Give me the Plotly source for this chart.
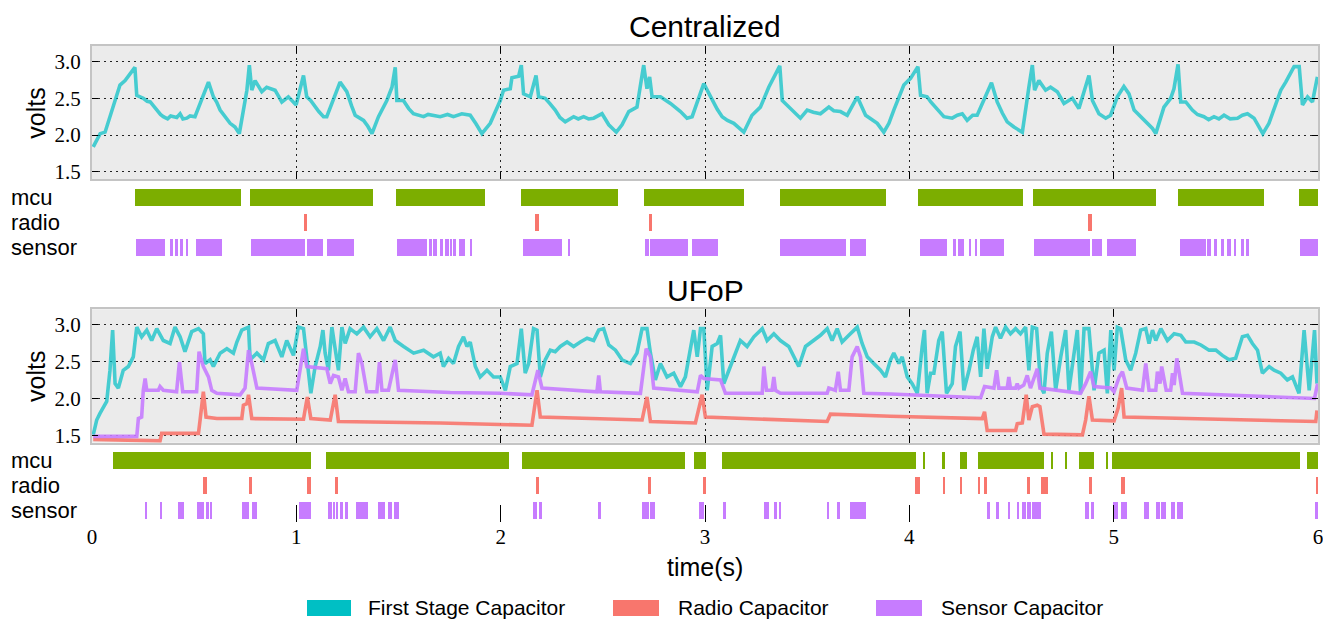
import plotly.graph_objects as go

# ---------------- data ----------------
# Centralized: first stage capacitor voltage (time s, volts)
cent_first = [
    (0.006, 1.84), (0.023, 1.93), (0.04, 2.02), (0.064, 2.04), (0.088, 2.25), (0.113, 2.47),
    (0.137, 2.68), (0.162, 2.74), (0.186, 2.83), (0.21, 2.92), (0.219, 2.54), (0.251, 2.50),
    (0.27, 2.46), (0.285, 2.45), (0.30, 2.40), (0.317, 2.34), (0.335, 2.28), (0.349, 2.25),
    (0.37, 2.22), (0.385, 2.26), (0.398, 2.25), (0.415, 2.24), (0.431, 2.29), (0.445, 2.22),
    (0.464, 2.23), (0.48, 2.26), (0.504, 2.25), (0.57, 2.72), (0.594, 2.52), (0.61, 2.45),
    (0.627, 2.34), (0.65, 2.25), (0.676, 2.16), (0.70, 2.11), (0.721, 2.02), (0.758, 2.61),
    (0.770, 2.95), (0.782, 2.61), (0.798, 2.74), (0.831, 2.59), (0.855, 2.65), (0.896, 2.61),
    (0.929, 2.45), (0.961, 2.52), (0.999, 2.41), (1.035, 2.81), (1.051, 2.52), (1.07, 2.47),
    (1.092, 2.38), (1.11, 2.32), (1.133, 2.25), (1.149, 2.25), (1.214, 2.72), (1.247, 2.59),
    (1.27, 2.40), (1.288, 2.27), (1.329, 2.20), (1.35, 2.12), (1.37, 2.02), (1.402, 2.25),
    (1.443, 2.47), (1.468, 2.65), (1.484, 2.92), (1.492, 2.47), (1.524, 2.47), (1.55, 2.36),
    (1.573, 2.29), (1.60, 2.27), (1.623, 2.25), (1.645, 2.28), (1.671, 2.27), (1.704, 2.25),
    (1.74, 2.28), (1.769, 2.25), (1.81, 2.29), (1.851, 2.27), (1.88, 2.15), (1.908, 2.02),
    (1.949, 2.16), (1.998, 2.47), (2.014, 2.61), (2.047, 2.63), (2.055, 2.78), (2.088, 2.80),
    (2.101, 2.95), (2.112, 2.56), (2.145, 2.52), (2.173, 2.81), (2.186, 2.52), (2.218, 2.50),
    (2.24, 2.43), (2.267, 2.34), (2.29, 2.24), (2.316, 2.18), (2.357, 2.25), (2.38, 2.22),
    (2.406, 2.25), (2.43, 2.22), (2.455, 2.23), (2.496, 2.29), (2.529, 2.14), (2.566, 2.04),
    (2.594, 2.14), (2.627, 2.32), (2.667, 2.38), (2.684, 2.65), (2.70, 2.95), (2.716, 2.63),
    (2.729, 2.79), (2.741, 2.52), (2.782, 2.52), (2.831, 2.43), (2.88, 2.32), (2.912, 2.23),
    (2.937, 2.25), (2.994, 2.70), (3.035, 2.47), (3.06, 2.35), (3.084, 2.25), (3.11, 2.20),
    (3.141, 2.16), (3.165, 2.10), (3.19, 2.04), (3.23, 2.27), (3.271, 2.38), (3.312, 2.65),
    (3.337, 2.79), (3.366, 2.94), (3.378, 2.47), (3.41, 2.38), (3.44, 2.30), (3.467, 2.23),
    (3.50, 2.34), (3.53, 2.31), (3.565, 2.29), (3.606, 2.38), (3.63, 2.33), (3.663, 2.32),
    (3.696, 2.27), (3.745, 2.52), (3.786, 2.27), (3.81, 2.22), (3.843, 2.16), (3.875, 2.04),
    (3.9, 2.16), (3.924, 2.34), (3.949, 2.52), (3.973, 2.68), (4.006, 2.77), (4.042, 2.93),
    (4.055, 2.54), (4.087, 2.52), (4.105, 2.45), (4.128, 2.38), (4.15, 2.30), (4.169, 2.25),
    (4.21, 2.23), (4.235, 2.27), (4.259, 2.29), (4.283, 2.20), (4.31, 2.27), (4.332, 2.27),
    (4.402, 2.71), (4.43, 2.45), (4.455, 2.30), (4.479, 2.18), (4.512, 2.11), (4.553, 2.04),
    (4.585, 2.65), (4.602, 2.95), (4.613, 2.61), (4.634, 2.74), (4.667, 2.61), (4.691, 2.65),
    (4.724, 2.59), (4.757, 2.43), (4.798, 2.50), (4.83, 2.36), (4.879, 2.81), (4.896, 2.47),
    (4.928, 2.29), (4.961, 2.23), (4.985, 2.27), (5.018, 2.52), (5.05, 2.66), (5.075, 2.56),
    (5.1, 2.34), (5.125, 2.27), (5.149, 2.20), (5.17, 2.15), (5.19, 2.09), (5.206, 2.02),
    (5.246, 2.38), (5.279, 2.50), (5.295, 2.63), (5.315, 2.96), (5.328, 2.45), (5.353, 2.45),
    (5.385, 2.34), (5.41, 2.28), (5.442, 2.25), (5.465, 2.21), (5.491, 2.25), (5.515, 2.22),
    (5.54, 2.27), (5.57, 2.22), (5.606, 2.23), (5.63, 2.27), (5.655, 2.29), (5.687, 2.23),
    (5.73, 2.02), (5.76, 2.16), (5.793, 2.43), (5.818, 2.61), (5.842, 2.72), (5.883, 2.93),
    (5.908, 2.93), (5.924, 2.41), (5.949, 2.52), (5.973, 2.45), (5.997, 2.79),
]

# UFoP: first stage capacitor voltage
ufop_first = [
    (0.006, 1.51), (0.023, 1.71), (0.039, 1.80), (0.055, 1.89), (0.072, 1.96), (0.088, 2.38),
    (0.101, 2.92), (0.113, 2.20), (0.129, 2.14), (0.153, 2.38), (0.178, 2.43), (0.202, 2.56),
    (0.219, 2.96), (0.243, 2.83), (0.268, 2.92), (0.292, 2.78), (0.317, 2.94), (0.349, 2.78),
    (0.382, 2.74), (0.406, 2.96), (0.431, 2.83), (0.455, 2.63), (0.488, 2.90), (0.521, 2.94),
    (0.545, 2.87), (0.553, 2.47), (0.578, 2.52), (0.594, 2.43), (0.627, 2.61), (0.66, 2.67),
    (0.692, 2.61), (0.709, 2.76), (0.733, 2.92), (0.766, 2.96), (0.774, 2.52), (0.807, 2.61),
    (0.839, 2.52), (0.863, 2.74), (0.896, 2.78), (0.929, 2.56), (0.953, 2.78), (0.986, 2.58),
    (1.010, 2.96), (1.035, 2.94), (1.051, 2.56), (1.071, 2.07), (1.092, 2.43), (1.117, 2.70),
    (1.130, 2.92), (1.141, 2.61), (1.157, 2.38), (1.174, 2.96), (1.19, 2.67), (1.206, 2.38),
    (1.223, 2.96), (1.239, 2.74), (1.263, 2.94), (1.296, 2.87), (1.329, 2.96), (1.361, 2.83),
    (1.394, 2.94), (1.427, 2.78), (1.459, 2.96), (1.484, 2.78), (1.525, 2.70), (1.574, 2.61),
    (1.623, 2.65), (1.671, 2.56), (1.704, 2.61), (1.72, 2.43), (1.745, 2.54), (1.769, 2.47),
    (1.794, 2.70), (1.818, 2.83), (1.835, 2.70), (1.851, 2.76), (1.876, 2.43), (1.9, 2.29),
    (1.933, 2.38), (1.965, 2.29), (1.998, 2.29), (2.023, 2.11), (2.047, 2.43), (2.08, 2.47),
    (2.101, 2.94), (2.12, 2.34), (2.137, 2.47), (2.161, 2.94), (2.178, 2.92), (2.194, 2.29),
    (2.218, 2.52), (2.243, 2.65), (2.267, 2.63), (2.292, 2.70), (2.325, 2.76), (2.357, 2.70),
    (2.39, 2.76), (2.423, 2.81), (2.455, 2.78), (2.48, 2.92), (2.504, 2.94), (2.529, 2.72),
    (2.562, 2.65), (2.594, 2.52), (2.635, 2.47), (2.667, 2.61), (2.692, 2.94), (2.716, 2.94),
    (2.733, 2.61), (2.757, 2.25), (2.782, 2.47), (2.814, 2.29), (2.847, 2.34), (2.88, 2.16),
    (2.904, 2.29), (2.929, 2.65), (2.945, 2.92), (2.962, 2.56), (2.978, 2.94), (2.994, 2.94),
    (3.011, 2.11), (3.035, 2.70), (3.06, 2.74), (3.076, 2.85), (3.092, 2.20), (3.117, 2.38),
    (3.141, 2.56), (3.173, 2.78), (3.206, 2.70), (3.239, 2.83), (3.28, 2.94), (3.304, 2.78),
    (3.337, 2.87), (3.369, 2.78), (3.41, 2.70), (3.459, 2.43), (3.492, 2.70), (3.532, 2.78),
    (3.565, 2.85), (3.598, 2.94), (3.622, 2.78), (3.647, 2.94), (3.671, 2.76), (3.704, 2.85),
    (3.745, 2.96), (3.769, 2.74), (3.794, 2.56), (3.826, 2.47), (3.859, 2.38), (3.883, 2.29),
    (3.908, 2.52), (3.924, 2.61), (3.949, 2.47), (3.965, 2.56), (3.99, 2.29), (4.014, 2.20),
    (4.039, 2.07), (4.063, 2.70), (4.074, 2.92), (4.087, 2.07), (4.104, 2.34), (4.12, 2.34),
    (4.144, 2.78), (4.161, 2.90), (4.182, 2.07), (4.21, 2.20), (4.226, 2.70), (4.248, 2.90),
    (4.267, 2.11), (4.292, 2.38), (4.313, 2.65), (4.332, 2.83), (4.349, 2.29), (4.365, 2.94),
    (4.381, 2.40), (4.406, 2.83), (4.422, 2.96), (4.446, 2.81), (4.471, 2.96), (4.495, 2.87),
    (4.52, 2.94), (4.544, 2.87), (4.569, 2.96), (4.585, 2.38), (4.602, 2.96), (4.623, 2.94),
    (4.643, 2.16), (4.659, 2.07), (4.675, 2.61), (4.695, 2.90), (4.716, 2.11), (4.741, 2.56),
    (4.765, 2.92), (4.781, 2.11), (4.806, 2.61), (4.822, 2.92), (4.838, 2.07), (4.855, 2.94),
    (4.879, 2.94), (4.904, 2.11), (4.928, 2.61), (4.953, 2.65), (4.969, 2.07), (4.986, 2.92),
    (5.002, 2.38), (5.018, 2.96), (5.034, 2.94), (5.059, 2.52), (5.083, 2.38), (5.108, 2.61),
    (5.132, 2.92), (5.157, 2.94), (5.173, 2.74), (5.19, 2.92), (5.206, 2.78), (5.231, 2.94),
    (5.263, 2.78), (5.296, 2.87), (5.329, 2.85), (5.353, 2.76), (5.394, 2.76), (5.427, 2.72),
    (5.467, 2.65), (5.5, 2.65), (5.532, 2.58), (5.565, 2.52), (5.597, 2.54), (5.63, 2.83),
    (5.655, 2.85), (5.679, 2.74), (5.704, 2.65), (5.728, 2.34), (5.761, 2.43), (5.785, 2.38),
    (5.818, 2.34), (5.85, 2.25), (5.875, 2.29), (5.907, 2.07), (5.932, 2.92), (5.957, 2.11),
    (5.983, 2.92), (5.995, 2.20),
]

# UFoP: radio capacitor voltage
ufop_radio = [
    (0.006, 1.45), (0.333, 1.43), (0.341, 1.53), (0.521, 1.53), (0.529, 1.71), (0.545, 2.09),
    (0.558, 1.75), (0.611, 1.73), (0.733, 1.73), (0.741, 1.91), (0.758, 1.93), (0.766, 2.05),
    (0.782, 1.73), (1.035, 1.72), (1.048, 1.93), (1.054, 2.02), (1.071, 1.73), (1.166, 1.71),
    (1.19, 2.05), (1.206, 1.69), (1.704, 1.67), (2.153, 1.64), (2.178, 2.11), (2.194, 1.75),
    (2.692, 1.71), (2.716, 2.02), (2.733, 1.69), (2.953, 1.67), (2.986, 2.05), (3.002, 1.75),
    (3.598, 1.69), (3.614, 1.79), (3.908, 1.76), (4.357, 1.73), (4.368, 1.82), (4.381, 1.57),
    (4.52, 1.57), (4.528, 1.66), (4.553, 1.67), (4.572, 2.05), (4.585, 1.71), (4.602, 1.89),
    (4.626, 1.91), (4.639, 1.89), (4.659, 1.52), (4.847, 1.51), (4.863, 1.71), (4.879, 2.03),
    (4.896, 1.71), (5.002, 1.70), (5.022, 1.87), (5.039, 2.14), (5.051, 1.75), (5.989, 1.69),
    (5.995, 1.84),
]

# UFoP: sensor capacitor voltage
ufop_sensor = [
    (0.006, 1.49), (0.219, 1.49), (0.227, 1.73), (0.243, 1.75), (0.251, 2.11), (0.26, 2.27),
    (0.268, 2.11), (0.325, 2.11), (0.333, 2.16), (0.349, 2.11), (0.414, 2.09), (0.428, 2.49),
    (0.444, 2.09), (0.512, 2.09), (0.524, 2.63), (0.545, 2.43), (0.570, 2.29), (0.586, 2.11),
    (0.611, 2.07), (0.725, 2.05), (0.749, 2.14), (0.766, 2.65), (0.782, 2.47), (0.807, 2.14),
    (1.002, 2.11), (1.019, 2.38), (1.035, 2.67), (1.051, 2.43), (1.149, 2.40), (1.166, 2.20),
    (1.182, 2.31), (1.206, 2.29), (1.223, 2.11), (1.239, 2.27), (1.255, 2.09), (1.288, 2.09),
    (1.304, 2.61), (1.321, 2.47), (1.345, 2.09), (1.394, 2.09), (1.407, 2.49), (1.419, 2.11),
    (1.451, 2.11), (1.484, 2.52), (1.5, 2.11), (1.753, 2.08), (1.998, 2.07), (2.153, 2.05),
    (2.169, 2.25), (2.182, 2.38), (2.202, 2.14), (2.471, 2.09), (2.48, 2.31), (2.488, 2.09),
    (2.684, 2.07), (2.70, 2.38), (2.712, 2.67), (2.733, 2.56), (2.749, 2.14), (2.962, 2.09),
    (2.978, 2.31), (2.994, 2.27), (3.076, 2.25), (3.1, 2.07), (3.28, 2.07), (3.288, 2.43),
    (3.301, 2.11), (3.328, 2.11), (3.337, 2.29), (3.345, 2.11), (3.369, 2.07), (3.598, 2.07),
    (3.606, 2.14), (3.638, 2.11), (3.652, 2.36), (3.663, 2.11), (3.704, 2.11), (3.72, 2.56),
    (3.745, 2.70), (3.761, 2.56), (3.777, 2.07), (3.908, 2.06), (4.349, 2.01), (4.368, 2.16),
    (4.414, 2.14), (4.427, 2.38), (4.438, 2.14), (4.479, 2.14), (4.487, 2.29), (4.495, 2.14),
    (4.52, 2.14), (4.528, 2.20), (4.536, 2.14), (4.56, 2.18), (4.577, 2.31), (4.593, 2.14),
    (4.613, 2.29), (4.626, 2.40), (4.639, 2.14), (4.838, 2.07), (4.863, 2.20), (4.887, 2.36),
    (4.904, 2.16), (4.986, 2.14), (5.002, 2.09), (5.027, 2.29), (5.043, 2.36), (5.064, 2.14),
    (5.141, 2.11), (5.157, 2.47), (5.173, 2.11), (5.206, 2.11), (5.214, 2.36), (5.227, 2.20),
    (5.235, 2.43), (5.257, 2.11), (5.279, 2.11), (5.288, 2.34), (5.296, 2.18), (5.309, 2.54),
    (5.337, 2.07), (5.983, 2.00), (5.998, 2.20),
]

# event rows: (start s, end s)
cent_mcu = [(0.211, 0.729), (0.774, 1.375), (1.486, 1.925), (2.101, 2.572), (2.703, 3.19),
            (3.369, 3.888), (4.043, 4.556), (4.603, 5.207), (5.317, 5.736), (5.909, 6.0)]
cent_radio = [(1.038, 1.054), (2.169, 2.186), (2.724, 2.739), (4.874, 4.892)]
cent_sensor = [(0.2155, 0.3575), (0.382, 0.398), (0.406, 0.423), (0.431, 0.444), (0.464, 0.469),
               (0.509, 0.635), (0.777, 1.043), (1.051, 1.130), (1.149, 1.280), (1.492, 1.639),
               (1.647, 1.664), (1.671, 1.688), (1.704, 1.720), (1.729, 1.745), (1.753, 1.761),
               (1.769, 1.783), (1.794, 1.827), (1.848, 1.859), (2.109, 2.300), (2.333, 2.341),
               (2.705, 2.724), (2.729, 2.915), (2.937, 3.062), (3.369, 3.688), (3.709, 3.786),
               (4.050, 4.185), (4.215, 4.226), (4.238, 4.267), (4.296, 4.303), (4.324, 4.332),
               (4.345, 4.463), (4.610, 4.884), (4.896, 4.945), (4.969, 5.108), (5.323, 5.451),
               (5.459, 5.475), (5.491, 5.508), (5.524, 5.540), (5.557, 5.573), (5.589, 5.597),
               (5.622, 5.638), (5.646, 5.660), (5.913, 6.0)]

ufop_mcu = [(0.104, 1.071), (1.146, 2.039), (2.104, 2.904), (2.945, 3.007), (3.084, 4.034),
            (4.068, 4.079), (4.161, 4.174), (4.248, 4.283), (4.336, 4.659), (4.696, 4.705),
            (4.765, 4.773), (4.83, 4.904), (4.964, 4.972), (4.994, 5.911), (5.944, 6.0)]
ufop_radio_ev = [(0.545, 0.562), (0.769, 0.782), (1.054, 1.071), (1.19, 1.206), (2.173, 2.19),
                 (2.72, 2.736), (2.989, 3.004), (4.03, 4.05), (4.166, 4.172), (4.251, 4.258),
                 (4.337, 4.345), (4.365, 4.381), (4.574, 4.589), (4.643, 4.680), (4.879, 4.896),
                 (5.038, 5.054), (5.994, 6.0)]
ufop_sensor_ev = [(0.26, 0.271), (0.336, 0.344), (0.42, 0.45), (0.513, 0.548), (0.557, 0.574),
                  (0.578, 0.588), (0.733, 0.77), (0.782, 0.807), (1.014, 1.071), (1.157, 1.174),
                  (1.182, 1.19), (1.198, 1.206), (1.214, 1.23), (1.239, 1.255), (1.293, 1.353),
                  (1.402, 1.435), (1.451, 1.47), (1.478, 1.503), (2.158, 2.178), (2.186, 2.202),
                  (2.475, 2.493), (2.692, 2.724), (2.733, 2.757), (2.969, 2.994), (3.089, 3.105),
                  (3.288, 3.312), (3.337, 3.35), (3.366, 3.374), (3.601, 3.606), (3.647, 3.663),
                  (3.709, 3.786), (4.378, 4.393), (4.422, 4.438), (4.484, 4.495), (4.525, 4.536),
                  (4.553, 4.569), (4.577, 4.593), (4.602, 4.646), (4.858, 4.879), (4.887, 4.904),
                  (4.998, 5.021), (5.034, 5.064), (5.149, 5.173), (5.206, 5.227), (5.231, 5.257),
                  (5.279, 5.299), (5.309, 5.337), (5.989, 5.998)]

row_labels = ["mcu", "radio", "sensor"]
volt_ticks = [1.5, 2.0, 2.5, 3.0]
time_ticks = [0, 1, 2, 3, 4, 5, 6]
legend_names = ["First Stage Capacitor", "Radio Capacitor", "Sensor Capacitor"]

# ---------------- style ----------------
TEAL = "#00BFC4"
RED = "#F8766D"
PURPLE = "#C77CFF"
GREEN = "#7CAE00"
SANS = "Liberation Sans, Arial, sans-serif"
SERIF = "Liberation Serif, Times New Roman, serif"

W, H = 1323, 619
PLOT_L, PLOT_R, PLOT_T, PLOT_B = 92, 1318, 46, 522   # plot area in window pixels
ML, MT, MR, MB = PLOT_L, PLOT_T, W - PLOT_R, H - PLOT_B
PW = PLOT_R - PLOT_L
PH = PLOT_B - PLOT_T


def fy(py):  # pixel y -> paper y
    return (PLOT_B - py) / PH


def fx(px):  # pixel x -> paper x
    return (px - PLOT_L) / PW


fig = go.Figure()


def add_line(pairs, color, xa, ya):
    fig.add_trace(go.Scatter(
        x=[p[0] for p in pairs], y=[p[1] for p in pairs], mode="lines",
        line=dict(color=color, width=3.6), showlegend=False, hoverinfo="skip",
        xaxis=xa, yaxis=ya))


def add_events(segs, row, color, xa, ya):
    fig.add_trace(go.Bar(
        orientation="h", y=[row] * len(segs), base=[s for s, e in segs],
        x=[e - s for s, e in segs], width=0.68, marker=dict(color=color, line=dict(width=0)),
        showlegend=False, hoverinfo="skip", xaxis=xa, yaxis=ya))


add_line(cent_first, "rgba(0,191,196,0.7)", "x", "y")
add_events(cent_mcu, 0, GREEN, "x2", "y2")
add_events(cent_radio, 1, RED, "x2", "y2")
add_events(cent_sensor, 2, PURPLE, "x2", "y2")

add_line(ufop_first, "rgba(0,191,196,0.7)", "x3", "y3")
add_line(ufop_radio, "rgba(248,118,109,0.9)", "x3", "y3")
add_line(ufop_sensor, "rgba(199,124,255,0.9)", "x3", "y3")
add_events(ufop_mcu, 0, GREEN, "x4", "y4")
add_events(ufop_radio_ev, 1, RED, "x4", "y4")
add_events(ufop_sensor_ev, 2, PURPLE, "x4", "y4")

volt_x = dict(range=[0, 6], tickvals=time_ticks, showticklabels=False, ticks="inside",
              ticklen=7, tickcolor="black", tickwidth=1, showline=True, linecolor="#c4c4c4",
              linewidth=2, mirror="ticks", showgrid=True, gridcolor="#222222", gridwidth=1,
              griddash="2px,4px", zeroline=False)
volt_y = dict(tickvals=volt_ticks, ticktext=["%.1f" % v for v in volt_ticks], ticks="inside",
              ticklen=6, tickcolor="black", showline=True, linecolor="#c4c4c4", linewidth=2,
              mirror="ticks", showgrid=True, gridcolor="#222222", gridwidth=1,
              griddash="2px,4px", zeroline=False, ticklabelstandoff=5,
              tickfont=dict(family=SERIF, size=21, color="black"))
ev_y = dict(range=[2.45, -0.45], showticklabels=False, showgrid=False, zeroline=False,
            showline=False, ticks="")

fig.update_layout(
    width=W, height=H, margin=dict(l=ML, r=MR, t=MT, b=MB, autoexpand=False),
    paper_bgcolor="white", plot_bgcolor="white", barmode="overlay", bargap=0,
    showlegend=False,
    xaxis=dict(volt_x, domain=[0, 1], anchor="y"),
    yaxis=dict(volt_y, domain=[fy(179.3), 1.0], range=[1.40, 3.21], anchor="x"),
    xaxis2=dict(range=[0, 6], domain=[0, 1], anchor="y2", showticklabels=False,
                showgrid=False, zeroline=False, showline=False, ticks=""),
    yaxis2=dict(ev_y, domain=[fy(259), fy(186)], anchor="x2"),
    xaxis3=dict(volt_x, domain=[0, 1], anchor="y3"),
    yaxis3=dict(volt_y, domain=[fy(442.7), fy(309.3)], range=[1.405, 3.20], anchor="x3"),
    xaxis4=dict(range=[0, 6], domain=[0, 1], anchor="y4", tickvals=time_ticks,
                ticktext=[str(t) for t in time_ticks], ticks="inside", ticklen=17,
                tickcolor="black", tickwidth=1.2, showline=False, showgrid=False,
                zeroline=False, ticklabeloverflow="allow",
                tickfont=dict(family=SERIF, size=21, color="black")),
    yaxis4=dict(ev_y, domain=[0, fy(449.4)], anchor="x4"),
)

# grey panel backgrounds for the voltage subplots
for xr, yr in (("x", "y"), ("x3", "y3")):
    fig.add_shape(type="rect", xref=xr + " domain", yref=yr + " domain", x0=0, x1=1, y0=0,
                  y1=1, fillcolor="#ebebeb", line=dict(width=0), layer="below")

annotations = []


def note(text, x, y, size, xref="paper", yref="paper", xanchor="center", angle=0):
    annotations.append(dict(text=text, x=x, y=y, xref=xref, yref=yref, xanchor=xanchor,
                            yanchor="middle", textangle=angle, showarrow=False,
                            font=dict(family=SANS, size=size, color="black")))


note("Centralized", 0.5, fy(27), 30)
note("UFoP", 0.5, fy(290), 30)
for ya in ("y", "y3"):
    note("volts", fx(36), 0.5, 25, yref=ya + " domain", angle=-90)
for ya in ("y2", "y4"):
    for i, lab in enumerate(row_labels):
        note(lab, fx(9), i, 22, yref=ya, xanchor="left")
note("time(s)", 0.5, fy(567), 25)

# legend (swatches + labels)
leg_colors = [TEAL, RED, PURPLE]
sw_x = [(307, 351), (613, 659), (876, 922)]
txt_x = [366, 676, 939]
for (x0, x1), col, tx, name in zip(sw_x, leg_colors, txt_x, legend_names):
    fig.add_shape(type="rect", xref="paper", yref="paper", x0=fx(x0), x1=fx(x1),
                  y0=fy(616), y1=fy(600), fillcolor=col, line=dict(width=0))
    note(name, fx(tx), fy(607), 21, xanchor="left")

fig.update_layout(annotations=annotations)

# the figure fills the whole window: drop the default page margin
page_css = ("document.documentElement.style.overflow='hidden';"
            "document.body.style.margin='0';document.body.style.overflow='hidden';")
fig.write_html("out.html", post_script=page_css, config={"displayModeBar": False})
